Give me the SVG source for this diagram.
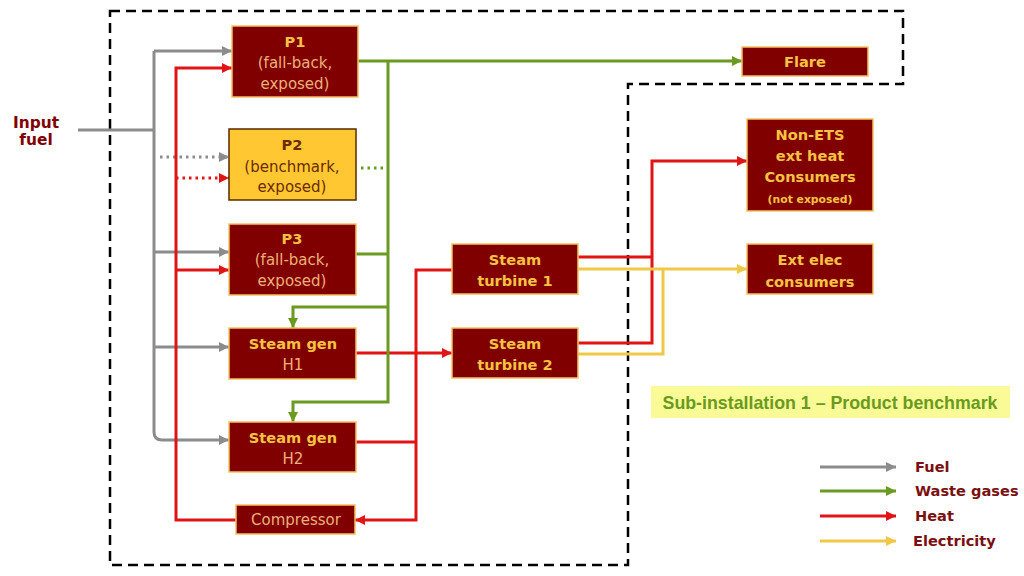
<svg xmlns="http://www.w3.org/2000/svg" width="1024" height="576" viewBox="0 0 1024 576">
<defs>
<style>
.n{fill:#800000;stroke:#f5c060;stroke-width:1.5}
.t{font-family:"DejaVu Sans",Verdana,sans-serif;font-size:14.6px;font-weight:bold;fill:#f7c244;text-anchor:middle}
.s{font-family:"DejaVu Sans",Verdana,sans-serif;font-size:15px;fill:#eeb07a;text-anchor:middle}
.c{fill:none;stroke-width:3}
.g{stroke:#8c8c8c}.gr{stroke:#6a9a20}.r{stroke:#e01414}.y{stroke:#f0c848}
.d{stroke-dasharray:2.5 4}
.lg{font-family:"DejaVu Sans",Verdana,sans-serif;font-size:14.6px;font-weight:bold;fill:#7a1010}
</style>
<marker id="ag" viewBox="0 0 10 10" refX="10" refY="5" markerWidth="10" markerHeight="10" markerUnits="userSpaceOnUse" orient="auto"><path d="M0,0L10,5L0,10z" fill="#8c8c8c"/></marker>
<marker id="agr" viewBox="0 0 10 10" refX="10" refY="5" markerWidth="10" markerHeight="10" markerUnits="userSpaceOnUse" orient="auto"><path d="M0,0L10,5L0,10z" fill="#6a9a20"/></marker>
<marker id="ar" viewBox="0 0 10 10" refX="10" refY="5" markerWidth="10" markerHeight="10" markerUnits="userSpaceOnUse" orient="auto"><path d="M0,0L10,5L0,10z" fill="#e01414"/></marker>
<marker id="ay" viewBox="0 0 10 10" refX="10" refY="5" markerWidth="10" markerHeight="10" markerUnits="userSpaceOnUse" orient="auto"><path d="M0,0L10,5L0,10z" fill="#f0c848"/></marker>
</defs>
<rect width="1024" height="576" fill="#ffffff"/>
<path d="M110,11H903V84H628V565H110Z" fill="none" stroke="#000" stroke-width="2.5" stroke-dasharray="10 6"/>
<g id="connectors">
<path class="c g" d="M78,130H154"/>
<path class="c g" d="M154,51V432Q154,440 162,440H229" marker-end="url(#ag)"/>
<path class="c g" d="M154,51H232" marker-end="url(#ag)"/>
<path class="c g" d="M154,252H229" marker-end="url(#ag)"/>
<path class="c g" d="M154,347H229" marker-end="url(#ag)"/>
<path class="c g d" d="M160,157H229" marker-end="url(#ag)"/>
<path class="c r" d="M236,520H176V68H232" marker-end="url(#ar)"/>
<path class="c r" d="M176,270H229" marker-end="url(#ar)"/>
<path class="c r d" d="M176,178H229" marker-end="url(#ar)"/>
<path class="c r" d="M356,353H452" marker-end="url(#ar)"/>
<path class="c r" d="M356,442H416"/>
<path class="c r" d="M452,270H416V520H355" marker-end="url(#ar)"/>
<path class="c r" d="M578,257H652"/>
<path class="c r" d="M578,343H652V161H747" marker-end="url(#ar)"/>
<path class="c y" d="M578,269H747" marker-end="url(#ay)"/>
<path class="c y" d="M578,354H663V269"/>
<path class="c gr" d="M358,61H742" marker-end="url(#agr)"/>
<path class="c gr" d="M388,61V402H293V422" marker-end="url(#agr)"/>
<path class="c gr" d="M356,254H388"/>
<path class="c gr d" d="M361,168H388"/>
<path class="c gr" d="M388,307H293V328" marker-end="url(#agr)"/>
</g>
<g id="input-fuel">
<text class="lg" x="36" y="128" text-anchor="middle" style="font-size:15.4px;fill:#800000">Input</text>
<text class="lg" x="36" y="145" text-anchor="middle" style="font-size:15.4px;fill:#800000">fuel</text>
</g>
<g id="p1">
<rect class="n" x="232" y="26" width="126" height="71"/>
<text class="t" x="295" y="47">P1</text>
<text class="s" x="295" y="68">(fall-back,</text>
<text class="s" x="295" y="89">exposed)</text>
</g>
<g id="p2">
<rect x="229" y="129" width="127" height="71" fill="#ffc832" stroke="#5a2a00" stroke-width="1.5"/>
<text class="t" x="292" y="150" style="fill:#6b2a00">P2</text>
<text class="s" x="292" y="172" style="fill:#6b2a00">(benchmark,</text>
<text class="s" x="292" y="192" style="fill:#6b2a00">exposed)</text>
</g>
<g id="p3">
<rect class="n" x="229" y="224" width="127" height="71"/>
<text class="t" x="292" y="244">P3</text>
<text class="s" x="292" y="265">(fall-back,</text>
<text class="s" x="292" y="286">exposed)</text>
</g>
<g id="steam-gen-h1">
<rect class="n" x="229" y="328" width="127" height="51"/>
<text class="t" x="293" y="349">Steam gen</text>
<text class="s" x="293" y="370">H1</text>
</g>
<g id="steam-gen-h2">
<rect class="n" x="229" y="422" width="127" height="50"/>
<text class="t" x="293" y="443">Steam gen</text>
<text class="s" x="293" y="464">H2</text>
</g>
<g id="compressor">
<rect class="n" x="236" y="505" width="119" height="29"/>
<text class="s" x="296" y="525">Compressor</text>
</g>
<g id="steam-turbine-1">
<rect class="n" x="452" y="244" width="126" height="50"/>
<text class="t" x="515" y="265">Steam</text>
<text class="t" x="515" y="286">turbine 1</text>
</g>
<g id="steam-turbine-2">
<rect class="n" x="452" y="328" width="126" height="50"/>
<text class="t" x="515" y="349">Steam</text>
<text class="t" x="515" y="370">turbine 2</text>
</g>
<g id="flare">
<rect class="n" x="742" y="47" width="126" height="29"/>
<text class="t" x="805" y="67">Flare</text>
</g>
<g id="non-ets">
<rect class="n" x="747" y="119" width="126" height="92"/>
<text class="t" x="810" y="140">Non-ETS</text>
<text class="t" x="810" y="161">ext heat</text>
<text class="t" x="810" y="182">Consumers</text>
<text class="t" x="810" y="203" style="font-size:10.8px">(not exposed)</text>
</g>
<g id="ext-elec">
<rect class="n" x="747" y="244" width="126" height="50"/>
<text class="t" x="810" y="265">Ext elec</text>
<text class="t" x="810" y="287">consumers</text>
</g>
<g id="sub-installation">
<rect x="651" y="386" width="359" height="32" fill="#fafa96"/>
<text x="830" y="409" text-anchor="middle" font-family="Liberation Sans, Arial, sans-serif" font-size="17.8" font-weight="bold" fill="#6a9a20">Sub-installation 1 – Product benchmark</text>
</g>
<g id="legend">
<path class="c g" d="M820,467H896" marker-end="url(#ag)"/>
<path class="c gr" d="M820,491H896" marker-end="url(#agr)"/>
<path class="c r" d="M820,516H896" marker-end="url(#ar)"/>
<path class="c y" d="M820,541H896" marker-end="url(#ay)"/>
<text class="lg" x="915" y="472">Fuel</text>
<text class="lg" x="915" y="496">Waste gases</text>
<text class="lg" x="915" y="521">Heat</text>
<text class="lg" x="913" y="546">Electricity</text>
</g>
</svg>
